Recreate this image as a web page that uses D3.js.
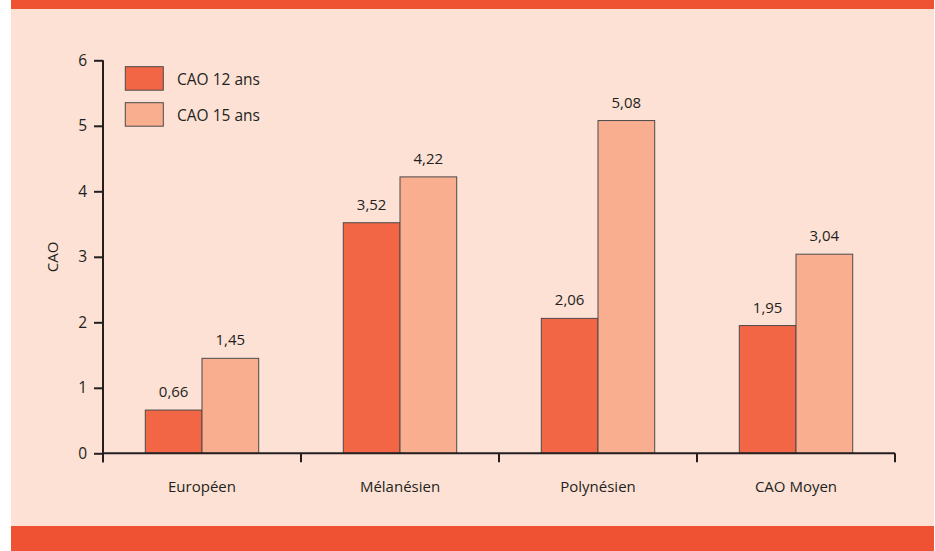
<!DOCTYPE html>
<html><head><meta charset="utf-8">
<script src="https://cdn.jsdelivr.net/npm/d3@7"></script>
<style>
html,body{margin:0;padding:0;background:#fff;}
svg{display:block;}
text{font-family:"Open Sans",sans-serif;fill:#231f20;}
</style></head>
<body>
<svg id="chart" width="935" height="551"></svg>
<script>
const categories = ["Européen", "Mélanésien", "Polynésien", "CAO Moyen"];
const seriesNames = ["CAO 12 ans", "CAO 15 ans"];
const cao12 = [0.66, 3.52, 2.06, 1.95];
const cao15 = [1.45, 4.22, 5.08, 3.04];
const yTicks = [0, 1, 2, 3, 4, 5, 6];
const yLabel = "CAO";
const colors = ["#f26545", "#f9ae90"];

const svg = d3.select("#chart");
// frame
svg.append("rect").attr("x", 11).attr("y", 0).attr("width", 923).attr("height", 551).attr("fill", "#fde1d5");
svg.append("rect").attr("x", 11).attr("y", 0).attr("width", 923).attr("height", 9).attr("fill", "#ef5133");
svg.append("rect").attr("x", 11).attr("y", 526).attr("width", 923).attr("height", 25).attr("fill", "#ef5133");

const x0 = 103, x1 = 895, y0 = 453.3, y1 = 60.3;
const fs = 15;
const x = d3.scaleBand().domain(categories).range([x0, x1]);
const y = d3.scaleLinear().domain([0, 6]).range([y0, y1]);
const barW = 56.7;
const xs = d3.scaleBand().domain(seriesNames).range([-barW, barW]);

const data = categories.map((c, i) => ({cat: c, vals: [cao12[i], cao15[i]]}));

const g = svg.append("g");
data.forEach(d => {
  d.vals.forEach((v, j) => {
    const cx = x(d.cat) + x.bandwidth() / 2;
    const bx = cx + xs(seriesNames[j]);
    g.append("rect")
      .attr("x", bx).attr("y", y(v))
      .attr("width", xs.bandwidth()).attr("height", y(0) - y(v))
      .attr("fill", colors[j]).attr("stroke", "#4a4a4a").attr("stroke-width", 1);
    g.append("text")
      .attr("x", bx + xs.bandwidth() / 2).attr("y", y(v) - 13)
      .attr("text-anchor", "middle").attr("font-size", fs)
      .text(d3.format(".2f")(v).replace(".", ","));
  });
});

// y axis
const yAxis = svg.append("g").attr("transform", `translate(${x0},0)`)
  .call(d3.axisLeft(y).tickValues(yTicks).tickSize(9).tickPadding(7).tickFormat(d3.format("d")));
yAxis.select(".domain").attr("d", `M0,${y1}V${y0 + 9}`).attr("stroke", "#231f20").attr("stroke-width", 2);
yAxis.selectAll(".tick line").attr("stroke", "#231f20").attr("stroke-width", 2);
yAxis.selectAll(".tick text").attr("font-size", 15.5).style("font-family", '"Open Sans",sans-serif').attr("fill", "#231f20");

// x axis
const xAxis = svg.append("g").attr("transform", `translate(0,${y0})`);
xAxis.append("line").attr("x1", x0).attr("x2", x1).attr("stroke", "#231f20").attr("stroke-width", 2);
const bounds = categories.map(c => x(c)).concat([x1]);
xAxis.selectAll(".tk").data(bounds).enter().append("line")
  .attr("x1", d => d).attr("x2", d => d).attr("y1", 0).attr("y2", 9)
  .attr("stroke", "#231f20").attr("stroke-width", 2);
xAxis.selectAll(".lbl").data(categories).enter().append("text")
  .attr("x", d => x(d) + x.bandwidth() / 2).attr("y", 39)
  .attr("text-anchor", "middle").attr("font-size", fs).text(d => d);

// y label
svg.append("text").attr("transform", "translate(58,257) rotate(-90)")
  .attr("text-anchor", "middle").attr("font-size", fs).text(yLabel);

// legend
const leg = svg.append("g");
seriesNames.forEach((s, i) => {
  const ly = 66.7 + i * 36;
  leg.append("rect").attr("x", 125.3).attr("y", ly).attr("width", 38).attr("height", 23.5)
    .attr("fill", colors[i]).attr("stroke", "#4a4a4a").attr("stroke-width", 1);
  leg.append("text").attr("x", 177).attr("y", ly + 18).attr("font-size", 15.5).text(s);
});
</script>
</body></html>
